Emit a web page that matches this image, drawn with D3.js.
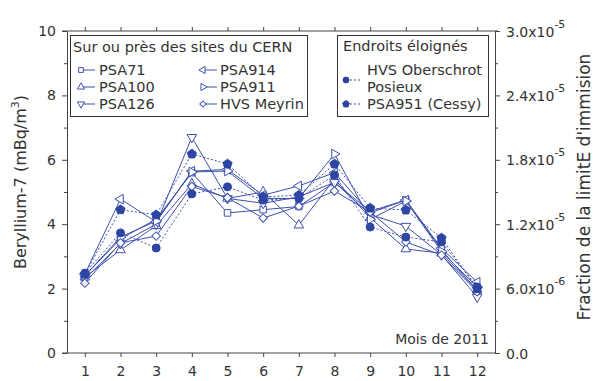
<!DOCTYPE html>
<html><head><meta charset="utf-8">
<script src="https://cdn.jsdelivr.net/npm/d3@7"></script>
<style>body{margin:0;background:#fff}svg{display:block}</style>
</head><body><svg id="chart" width="593" height="381"></svg>
<script>
// Monthly Beryllium-7 concentrations (mBq/m3), 2011
const months = [1,2,3,4,5,6,7,8,9,10,11,12];
const psa71     = [2.40, 3.55, 4.15, 5.60, 4.35, 4.45, 4.55, 5.30, 4.40, 4.75, 3.20, 1.95];
const psa100    = [2.35, 3.20, 3.95, 5.25, 4.80, 5.00, 3.97, 5.40, 4.20, 3.23, 3.10, 1.95];
const psa126    = [2.30, 3.40, 4.00, 6.70, 4.80, 4.65, 4.85, 5.30, 4.30, 3.94, 3.05, 1.74];
const psa914    = [2.45, 4.78, 4.07, 5.65, 5.70, 4.90, 5.19, 5.60, 4.35, 4.75, 3.25, 2.20];
const psa911    = [2.40, 3.60, 4.10, 5.62, 5.65, 4.80, 4.80, 6.18, 4.15, 4.72, 3.15, 2.05];
const hvsMeyrin = [2.17, 3.42, 3.63, 5.17, 4.82, 4.19, 4.56, 5.03, 4.38, 3.45, 3.04, 1.90];
const hvsOberschrot = [2.48, 3.73, 3.26, 4.94, 5.16, 4.75, 4.80, 5.53, 3.91, 3.60, 3.45, 2.05];
const psa951    = [2.45, 4.45, 4.29, 6.18, 5.87, 4.85, 4.90, 5.87, 4.50, 4.44, 3.57, 2.00];

const leftTicks = [0, 2, 4, 6, 8, 10];
const leftMinor = [1, 3, 5, 7, 9];
const rightTicks = [0, 6e-6, 1.2e-5, 1.8e-5, 2.4e-5, 3.0e-5];
const rightMinor = [3e-6, 9e-6, 1.5e-5, 2.1e-5, 2.7e-5];

const BLUE = "#3d50ad", FILL = "#2d45a3", AXIS = "#444", TEXT = "#333";
const FONT = "DejaVu Sans, Verdana, sans-serif";

// Regular pentagon symbol
const symbolPentagon = {
  draw(ctx, size) {
    const r = Math.sqrt(size / 2.378);
    for (let i = 0; i < 5; i++) {
      const a = -Math.PI / 2 + i * 2 * Math.PI / 5;
      const px = r * Math.cos(a), py = r * Math.sin(a);
      if (i === 0) ctx.moveTo(px, py); else ctx.lineTo(px, py);
    }
    ctx.closePath();
  }
};

const series = [
  {name: "PSA71", values: psa71, type: d3.symbolSquare, rot: 0, size: 42},
  {name: "PSA100", values: psa100, type: d3.symbolTriangle, rot: 0, size: 40},
  {name: "PSA126", values: psa126, type: d3.symbolTriangle, rot: 180, size: 40},
  {name: "PSA914", values: psa914, type: d3.symbolTriangle, rot: -90, size: 40},
  {name: "PSA911", values: psa911, type: d3.symbolTriangle, rot: 90, size: 40},
  {name: "HVS Meyrin", values: hvsMeyrin, type: d3.symbolSquare, rot: 45, size: 36},
  {name: "HVS Oberschrot Posieux", values: hvsOberschrot, type: d3.symbolCircle, rot: 0, size: 50, filled: true},
  {name: "PSA951 (Cessy)", values: psa951, type: symbolPentagon, rot: 0, size: 55, filled: true}
];

const svg = d3.select("#chart");
const L = 67, R = 495, T = 31, B = 353;

const x = d3.scaleLinear().domain([0.5, 12.5]).range([L, R]);
const y = d3.scaleLinear().domain([0, 10]).range([B, T]);
const y2 = d3.scaleLinear().domain([0, 3e-5]).range([B, T]);

function styleAxis(g) {
  g.selectAll("path.domain").attr("stroke", AXIS);
  g.selectAll(".tick line").attr("stroke", AXIS);
  g.selectAll("text").attr("font-family", FONT).attr("font-size", 14).attr("fill", TEXT);
}

// Left axis
const gl = svg.append("g").attr("transform", `translate(${L},0)`)
  .call(d3.axisLeft(y).tickValues(leftTicks).tickSize(5).tickSizeOuter(0).tickPadding(6));
styleAxis(gl);
svg.append("g").attr("transform", `translate(${L},0)`)
  .call(d3.axisLeft(y).tickValues(leftMinor).tickSize(3).tickFormat(""))
  .call(g => g.select(".domain").remove()).call(styleAxis);

// Right axis with scientific labels
function sci(v) {
  if (v === 0) return {m: "0.0", e: null};
  const e = Math.floor(Math.log10(v) + 1e-9);
  return {m: (v / Math.pow(10, e)).toFixed(1) + "x10", e: String(e)};
}
const gr = svg.append("g").attr("transform", `translate(${R},0)`)
  .call(d3.axisRight(y2).tickValues(rightTicks).tickSize(5).tickSizeOuter(0).tickFormat(""));
styleAxis(gr);
gr.selectAll(".tick").each(function(d) {
  const s = sci(d);
  const t = d3.select(this).append("text")
    .attr("x", 11).attr("y", 5).attr("text-anchor", "start")
    .attr("font-family", FONT).attr("font-size", 14).attr("fill", TEXT);
  t.append("tspan").text(s.m);
  if (s.e) t.append("tspan").attr("dy", -9).attr("font-size", 11).text(s.e);
});
svg.append("g").attr("transform", `translate(${R},0)`)
  .call(d3.axisRight(y2).tickValues(rightMinor).tickSize(3).tickFormat(""))
  .call(g => g.select(".domain").remove()).call(styleAxis);

// Bottom axis
const gb = svg.append("g").attr("transform", `translate(0,${B})`)
  .call(d3.axisBottom(x).tickValues(months).tickSize(4).tickSizeOuter(0).tickPadding(9));
styleAxis(gb);
gb.select(".domain").attr("d", `M${L - 5},0H${R}`);

// Top axis
const gt = svg.append("g").attr("transform", `translate(0,${T})`)
  .call(d3.axisTop(x).tickValues(months).tickSize(4).tickSizeOuter(0).tickFormat(""));
styleAxis(gt);
gt.select(".domain").attr("d", `M${L - 5},0H${R + 3}`);

// Axis titles
svg.append("text")
  .attr("transform", `translate(26,182) rotate(-90)`)
  .attr("text-anchor", "middle").attr("font-family", FONT).attr("font-size", 16).attr("fill", TEXT)
  .call(t => {
    t.append("tspan").text("Beryllium-7 (mBq/m");
    t.append("tspan").attr("dy", -7).attr("font-size", 11).text("3");
    t.append("tspan").attr("dy", 7).text(")");
  });
svg.append("text")
  .attr("transform", `translate(590,187) rotate(-90)`)
  .attr("text-anchor", "middle").attr("font-family", FONT).attr("font-size", 17).attr("fill", TEXT)
  .text("Fraction de la limitE d'immision");

svg.append("text").attr("x", R - 6).attr("y", B - 9).attr("text-anchor", "end")
  .attr("font-family", FONT).attr("font-size", 14).attr("fill", TEXT).text("Mois de 2011");

// Series lines
const line = d3.line().x((d, i) => x(months[i])).y(d => y(d));
const plot = svg.append("g");
series.forEach(s => {
  plot.append("path").datum(s.values)
    .attr("d", line).attr("fill", "none").attr("stroke", BLUE)
    .attr("stroke-width", 1).attr("stroke-dasharray", s.filled ? "2,2" : null);
});
series.forEach(s => {
  const sym = d3.symbol().type(s.type).size(s.size);
  plot.append("g").selectAll("path").data(s.values).join("path")
    .attr("transform", (d, i) => `translate(${x(months[i])},${y(d)}) rotate(${s.rot})`)
    .attr("d", sym)
    .attr("fill", s.filled ? FILL : "#fff")
    .attr("stroke", s.filled ? FILL : BLUE).attr("stroke-width", 1);
});

// Legends
function legendBox(x0, y0, w, h) {
  svg.append("rect").attr("x", x0 + 0.5).attr("y", y0 + 0.5).attr("width", w).attr("height", h)
    .attr("fill", "#fff").attr("stroke", "#333").attr("stroke-width", 1);
}
function legendText(tx, ty, str) {
  svg.append("text").attr("x", tx).attr("y", ty).attr("dy", "0.35em")
    .attr("font-family", FONT).attr("font-size", 14.5).attr("fill", TEXT).text(str);
}
function legendItem(s, mx, my) {
  svg.append("line").attr("x1", mx).attr("x2", mx + 14).attr("y1", my).attr("y2", my)
    .attr("stroke", BLUE).attr("stroke-width", 1).attr("stroke-dasharray", s.filled ? "2,2" : null);
  svg.append("path").attr("transform", `translate(${mx},${my}) rotate(${s.rot})`)
    .attr("d", d3.symbol().type(s.type).size(s.size * 0.55))
    .attr("fill", s.filled ? FILL : "#fff")
    .attr("stroke", s.filled ? FILL : BLUE).attr("stroke-width", 1);
}

legendBox(70, 35, 237, 81);
legendText(73, 47, "Sur ou près des sites du CERN");
const cols = [[81, 99], [203, 220]];
const rows = [70, 87, 104];
series.slice(0, 6).forEach((s, i) => {
  const c = cols[Math.floor(i / 3)], r = rows[i % 3];
  legendItem(s, c[0], r);
  legendText(c[1], r, s.name);
});

legendBox(337, 35, 151, 81);
legendText(343, 46, "Endroits éloignés");
legendItem(series[6], 346, 80);
legendText(367, 70, "HVS Oberschrot");
legendText(367, 87, "Posieux");
legendItem(series[7], 346, 104);
legendText(367, 104, "PSA951 (Cessy)");
</script></body></html>
